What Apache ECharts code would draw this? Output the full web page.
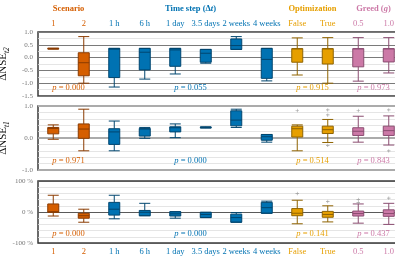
<!DOCTYPE html>
<html>
<head>
<meta charset="utf-8">
<script src="https://cdn.jsdelivr.net/npm/echarts@6/dist/echarts.min.js"></script>
<style>
  html, body { margin: 0; background: #fff; }
  #chart { width: 395px; height: 263px; }
</style>
</head>
<body>
<div id="chart"></div>
<script>
// categories along x, shared by the three panels
const categories = ['1', '2', '1 h', '6 h', '1 day', '3.5 days', '2 weeks', '4 weeks', 'False', 'True', '0.5', '1.0'];
const catGroup = [0, 0, 1, 1, 1, 1, 1, 1, 2, 2, 3, 3];

// groups: title, first & last category index
const groupTitles = ['{b|Scenario}', '{b|Time step (Δ}{bi|t}{b|)}', '{b|Optimization}', '{b|Greed (}{bi|g}{b|)}'];
const groupFirst = [0, 2, 8, 10];
const groupLast = [1, 7, 9, 11];
const groupColors = ['#D55E00', '#0072B2', '#E69F00', '#CC79A7'];
const groupEdges = ['#8a3b00', '#00466f', '#8f6300', '#8a4c70'];

// box data [min, Q1, median, Q3, max]
const nseT2 = [
  [0.33, 0.34, 0.35, 0.36, 0.37],
  [-1.0, -0.71, -0.2, 0.19, 0.82],
  [-1.15, -0.78, 0.33, 0.36, 0.36],
  [-0.84, -0.48, 0.21, 0.36, 0.36],
  [-0.64, -0.34, 0.3, 0.36, 0.36],
  [-0.22, -0.18, 0.17, 0.32, 0.32],
  [0.32, 0.32, 0.47, 0.73, 0.82],
  [-0.91, -0.81, -0.07, 0.36, 0.36],
  [-0.68, -0.18, 0.34, 0.35, 0.77],
  [-1.0, -0.25, 0.34, 0.35, 0.78],
  [-0.92, -0.36, 0.34, 0.35, 0.78],
  [-0.6, -0.17, 0.34, 0.35, 0.78]
];
const nseT1 = [
  [-0.04, 0.13, 0.3, 0.33, 0.41],
  [-0.4, -0.01, 0.28, 0.44, 0.9],
  [-0.4, -0.2, 0.19, 0.29, 0.53],
  [-0.01, 0.06, 0.28, 0.3, 0.33],
  [0.01, 0.19, 0.32, 0.35, 0.44],
  [0.31, 0.32, 0.33, 0.34, 0.35],
  [0.33, 0.38, 0.56, 0.85, 0.9],
  [-0.13, -0.07, 0.04, 0.11, 0.11],
  [-0.4, 0.03, 0.29, 0.37, 0.41],
  [-0.14, 0.14, 0.26, 0.37, 0.58],
  [-0.13, 0.08, 0.21, 0.32, 0.68],
  [-0.22, 0.08, 0.23, 0.37, 0.69]
];
const mare = [
  [-13, -1, 1, 26, 54],
  [-33, -20, -12, -4, 9],
  [-22, -10, 9, 31, 54],
  [-12, -12, -1, 5, 28],
  [-20, -13, -6, 1, 1],
  [-18, -18, -8, -1, -1],
  [-33, -33, -18, -7, -2],
  [-4, -4, 14, 31, 35],
  [-38, -12, -4, 11, 38],
  [-32, -17, -8, 2, 20],
  [-36, -13, -5, 3, 26],
  [-40, -14, -5, 7, 28]
];

// outliers [category index, value]
const outT2 = [];
const outT1 = [[8, 0.86], [9, 0.88], [9, 0.72], [9, -0.23], [10, 0.86], [11, 0.88], [11, -0.4]];
const outMare = [[8, 60], [9, 34], [10, 40], [10, 30], [11, 45]];

// p-values per group and panel
const pT2 = ['0.000', '0.055', '0.915', '0.973'];
const pT1 = ['0.971', '0.000', '0.514', '0.843'];
const pMare = ['0.000', '0.000', '0.141', '0.437'];
const pLabelY = [-1.19, -0.72, -70];

const serif = 'Liberation Serif';
const chart = echarts.init(document.getElementById('chart'));

const grids = [
  { left: 38, width: 366, top: 32, height: 64 },
  { left: 38, width: 366, top: 106, height: 64 },
  { left: 38, width: 366, top: 181, height: 62 }
].map(g => Object.assign(g, {
  show: true, borderColor: '#3a3a3a', borderWidth: 1.5,
  containLabel: false, outerBoundsMode: 'none'
}));

function xAxis(i, showLabels, pos) {
  return {
    type: 'category', gridIndex: i, data: categories, position: pos,
    axisLine: { show: false }, axisTick: { show: false }, splitLine: { show: false },
    axisLabel: {
      show: showLabels, interval: 0, margin: 4, fontFamily: serif, fontSize: 8.5,
      color: (v, idx) => groupColors[catGroup[idx]]
    }
  };
}

function yAxis(i, min, max, interval, minorSplit, majorColor, majorWidth, fmt, name) {
  return {
    type: 'value', gridIndex: i, min: min, max: max, interval: interval,
    axisLine: { show: false }, axisTick: { show: false },
    axisLabel: { fontFamily: serif, fontSize: 7, color: '#777', margin: 5, formatter: fmt },
    splitLine: { show: true, lineStyle: { color: majorColor, width: majorWidth } },
    minorTick: { show: false, splitNumber: minorSplit },
    minorSplitLine: { show: true, lineStyle: { color: '#dedede', width: 0.8 } },
    name: name, nameLocation: 'middle', nameRotate: 90, nameGap: 14,
    nameTextStyle: {
      fontFamily: serif, color: '#111',
      rich: {
        a: { fontFamily: serif, fontSize: 11, lineHeight: 16, color: '#111' },
        s: { fontFamily: serif, fontSize: 7.5, fontStyle: 'italic', lineHeight: 8, verticalAlign: 'bottom', color: '#111' }
      }
    }
  };
}

function boxSeries(i, data) {
  return {
    type: 'boxplot', xAxisIndex: i, yAxisIndex: i, boxWidth: [11, 11],
    data: data.map((d, k) => ({
      value: d,
      itemStyle: { color: groupColors[catGroup[k]], borderColor: groupEdges[catGroup[k]], borderWidth: 1 }
    })),
    z: 3
  };
}

function outlierSeries(i, data) {
  return {
    type: 'scatter', xAxisIndex: i, yAxisIndex: i, data: data,
    symbol: 'path://M0,-1H0.2V-0.2H1V0.2H0.2V1H-0.2V0.2H-1V-0.2H-0.2Z', symbolSize: 3.5,
    itemStyle: { color: '#8c8c8c' }, z: 4
  };
}

const dec1 = v => v.toFixed(1);
const pct = v => v + ' %';

chart.setOption({
  animation: false,
  grid: grids,
  xAxis: [xAxis(0, true, 'top'), xAxis(1, false, 'bottom'), xAxis(2, true, 'bottom')],
  yAxis: [
    yAxis(0, -1.5, 1.0, 0.5, 2, '#7a7a7a', 1, dec1, '{a|ΔNSE}{s|t2}'),
    yAxis(1, -1.0, 1.0, 1.0, 5, '#ababab', 2, dec1, '{a|ΔNSE}{s|t1}'),
    yAxis(2, -100, 100, 100, 5, '#5a5a5a', 1.2, pct, '{a|ΔMARE}')
  ],
  series: [
    boxSeries(0, nseT2), boxSeries(1, nseT1), boxSeries(2, mare),
    outlierSeries(0, outT2), outlierSeries(1, outT1), outlierSeries(2, outMare)
  ]
});

// group titles and p-values placed at the centre of each group's categories
const graphics = [];
const pAll = [pT2, pT1, pMare];
groupTitles.forEach((title, g) => {
  const x0 = chart.convertToPixel({ xAxisIndex: 0 }, categories[groupFirst[g]]);
  const x1 = chart.convertToPixel({ xAxisIndex: 0 }, categories[groupLast[g]]);
  const cx = (x0 + x1) / 2;
  const c = groupColors[g];
  graphics.push({
    type: 'text', x: cx, y: 9,
    style: {
      text: title, align: 'center', verticalAlign: 'middle',
      rich: {
        b: { fontFamily: serif, fontSize: 8.5, fontWeight: 'bold', fill: c },
        bi: { fontFamily: serif, fontSize: 8.5, fontWeight: 'bold', fontStyle: 'italic', fill: c }
      }
    }
  });
  pAll.forEach((pv, i) => {
    const y = chart.convertToPixel({ yAxisIndex: i }, pLabelY[i]);
    graphics.push({
      type: 'text', x: cx, y: y, z: 10,
      style: {
        text: '{i|p} = ' + pv[g], align: 'center', verticalAlign: 'middle',
        fontFamily: serif, fontSize: 8.5, fill: c,
        rich: { i: { fontFamily: serif, fontSize: 8.5, fontStyle: 'italic', fill: c } }
      }
    });
  });
});
chart.setOption({ graphic: graphics });
</script>
</body>
</html>
